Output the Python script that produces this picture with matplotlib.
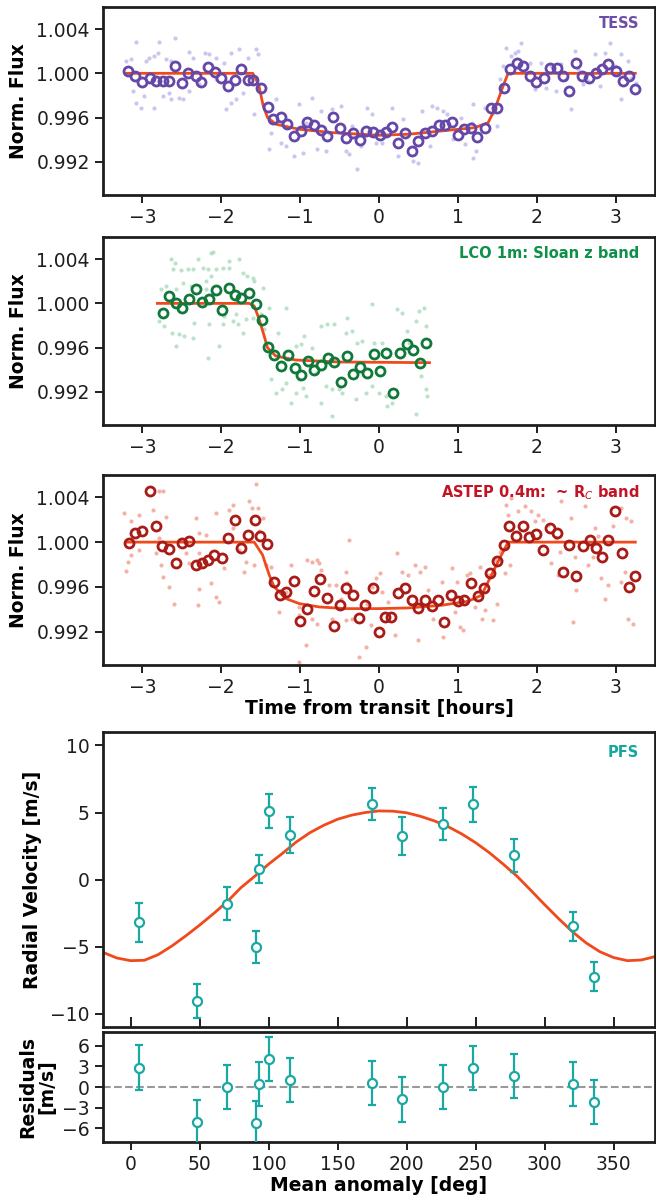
import matplotlib
matplotlib.use("Agg")
import matplotlib.pyplot as plt

# ---------------- TESS ----------------
tess_bin_t = [-3.185, -3.095, -3.000, -2.910, -2.826, -2.736, -2.657, -2.588, -2.499, -2.420,
              -2.325, -2.251, -2.166, -2.077, -1.998, -1.918, -1.829, -1.755, -1.660, -1.592,
              -1.496, -1.406, -1.338, -1.248, -1.164, -1.084, -0.995, -0.910, -0.826, -0.741,
              -0.657, -0.588, -0.493, -0.414, -0.330, -0.245, -0.161, -0.082, 0.008, 0.087,
              0.166, 0.245, 0.325, 0.420, 0.499, 0.588, 0.678, 0.763, 0.842, 0.921,
              1.000, 1.079, 1.169, 1.248, 1.338, 1.417, 1.496, 1.580, 1.660, 1.749,
              1.829, 1.918, 1.997, 2.092, 2.171, 2.251, 2.330, 2.409, 2.499, 2.578,
              2.662, 2.752, 2.831, 2.910, 3.000, 3.090, 3.164, 3.243]
tess_bin_f = [1.00021, 0.99976, 0.99925, 0.99955, 0.99931, 0.99931, 0.99931, 1.00069, 0.99910, 1.00006,
              0.99976, 0.99925, 1.00054, 1.00015, 0.99961, 0.99886, 0.99940, 1.00039, 0.99940, 0.99940,
              0.99865, 0.99699, 0.99585, 0.99609, 0.99540, 0.99429, 0.99483, 0.99558, 0.99534, 0.99489,
              0.99429, 0.99603, 0.99504, 0.99414, 0.99459, 0.99398, 0.99480, 0.99465, 0.99444, 0.99468,
              0.99519, 0.99368, 0.99459, 0.99302, 0.99389, 0.99459, 0.99480, 0.99534, 0.99534, 0.99564,
              0.99438, 0.99498, 0.99504, 0.99420, 0.99504, 0.99690, 0.99690, 0.99865, 1.00039, 1.00090,
              1.00069, 0.99976, 0.99925, 0.99955, 1.00045, 1.00045, 0.99976, 0.99841, 1.00090, 0.99976,
              0.99961, 1.00006, 1.00036, 1.00081, 1.00024, 0.99931, 0.99976, 0.99859]
tess_raw_t = [-3.080, -2.785, -2.582, -3.206, -3.143, -2.953, -2.911, -2.848, -2.806, -2.700,
              -2.637, -2.413, -2.363, -2.202, -2.152, -2.067, -1.962, -1.877, -1.772, -1.666,
              -1.561, -1.540, -3.122, -3.080, -3.017, -2.974, -2.848, -2.742, -2.658, -2.637,
              -2.531, -2.489, -2.405, -2.278, -2.067, -1.941, -1.877, -1.814, -1.730, -1.582,
              -1.392, -1.371, -1.308, -1.244, -1.181, -1.076, -1.012, -0.970, -0.844, -0.780,
              -0.738, -0.675, -0.590, -0.485, -0.422, -0.380, -0.274, -0.232, -0.147, -0.084,
              -0.928, -0.633, -0.337, -0.042,
              0.034, 0.160, 0.245, 0.308, 0.435, 0.490, 0.540, 0.646, 0.667, 0.730,
              0.814, 0.857, 0.941, 1.046, 1.089, 1.173, 1.194, 1.194, 1.236, 1.342,
              1.447, 1.490, 1.532, 1.574, 1.616, 1.679, 1.722, 1.764, 1.806, 1.911,
              1.975, 2.059, 2.122, 2.186, 2.249, 2.312, 2.375, 2.439, 2.481, 2.523,
              2.587, 2.650, 2.734, 2.798, 2.861, 2.924, 2.987, 3.063, 3.072, 3.156,
              3.198, 3.262]
tess_raw_f = [1.00286, 1.00286, 1.00322, 1.00111, 1.00126, 1.00111, 1.00141, 1.00156, 1.00187, 1.00126,
              1.00111, 1.00193, 1.00141, 1.00187, 1.00172, 1.00141, 1.00096, 1.00187, 1.00217, 1.00141,
              1.00217, 1.00172, 0.99840, 0.99735, 0.99690, 0.99795, 0.99690, 0.99795, 0.99825, 0.99765,
              0.99780, 0.99765, 0.99840, 0.99901, 0.99946, 0.99675, 0.99735, 0.99765, 0.99825, 0.99630,
              0.99314, 0.99464, 0.99765, 0.99374, 0.99344, 0.99254, 0.99720, 0.99284, 0.99780, 0.99314,
              0.99660, 0.99299, 0.99675, 0.99705, 0.99299, 0.99269, 0.99133, 0.99344, 0.99690, 0.99630,
              0.99554, 0.99464, 0.99524, 0.99374,
              0.99374, 0.99690, 0.99254, 0.99585, 0.99208, 0.99193, 0.99660, 0.99344, 0.99705, 0.99690,
              0.99660, 0.99630, 0.99404, 0.99600, 0.99359, 0.99554, 0.99720, 0.99238, 0.99299, 0.99690,
              0.99645, 0.99524, 0.99946, 1.00066, 1.00232, 1.00156, 1.00187, 1.00202, 1.00277, 1.00096,
              0.99855, 1.00096, 0.99871, 1.00066, 0.99840, 1.00081, 0.99946, 0.99675, 1.00202, 1.00036,
              0.99901, 0.99931, 1.00172, 0.99886, 1.00187, 1.00277, 1.00066, 1.00172, 0.99765, 1.00111,
              0.99961, 0.99915]
tess_mod_t = [-3.20, -1.60, -1.527, -1.468, -1.413, -1.308, -1.012, -0.590, 0.0, 0.371, 0.793,
              1.215, 1.384, 1.468, 1.574, 1.637, 3.25]
tess_mod_f = [1.0000, 1.0000, 0.99901, 0.99705, 0.99600, 0.99540, 0.99494, 0.99464, 0.99440, 0.99449,
              0.99479, 0.99509, 0.99554, 0.99675, 0.99886, 1.0000, 1.0000]

# ---------------- LCO ----------------
lco_bin_t = [-2.736, -2.657, -2.578, -2.499, -2.409, -2.325, -2.245, -2.156, -2.066, -1.987,
             -1.902, -1.823, -1.744, -1.649, -1.565, -1.486, -1.406, -1.327, -1.248, -1.153,
             -1.069, -0.995, -0.905, -0.826, -0.741, -0.652, -0.573, -0.483, -0.404, -0.325,
             -0.235, -0.150, -0.066, 0.018, 0.092, 0.177, 0.261, 0.351, 0.430, 0.515, 0.594]
lco_bin_f = [0.99910, 1.00069, 1.00000, 0.99961, 1.00036, 1.00126, 1.00009, 1.00036, 1.00120, 0.99940,
             1.00135, 1.00075, 1.00045, 1.00096, 0.99994, 0.99850, 0.99603, 0.99534, 0.99438, 0.99534,
             0.99420, 0.99353, 0.99480, 0.99398, 0.99444, 0.99510, 0.99468, 0.99293, 0.99528, 0.99362,
             0.99423, 0.99368, 0.99540, 0.99389, 0.99549, 0.99188, 0.99549, 0.99630, 0.99579, 0.99465,
             0.99645]
lco_raw_t = [-2.637, -2.582, -2.616, -2.511, -2.426, -2.300, -2.363, -2.236, -2.131, -2.101,
             -2.173, -2.131, -2.194, -2.068, -1.983, -1.899, -1.907, -1.772, -1.730, -1.679,
             -1.603, -1.582, -1.477, -2.764, -2.700, -2.574, -2.489, -2.384, -2.194, -2.785,
             -2.722, -2.625, -2.574, -2.532, -2.468, -2.363, -2.342, -2.173, -2.152, -2.025,
             -1.983, -1.962, -1.857, -1.793, -1.730, -1.814, -1.688, -1.603, -1.498, -1.456,
             -1.392, -1.181, -1.287, -1.371, -1.308, -1.224, -1.181, -1.118, -1.055, -1.013,
             -0.970, -0.928, -1.055, -0.992, -0.949, -0.844, -0.802, -0.738, -0.738, -0.654,
             -0.570, -0.675, -0.591, -0.506, -0.464, -0.401, -0.422, -0.338, -0.274, -0.295,
             -0.211, -0.169, -0.084, -0.063, 0.042, -0.084, 0.000, 0.084, 0.105, 0.169,
             0.232, 0.295, 0.359, 0.380, 0.464, 0.506, 0.570, 0.591, 0.527, 0.591,
             0.612, -0.591, 0.464]
lco_raw_f = [1.00403, 1.00367, 1.00307, 1.00301, 1.00307, 1.00397, 1.00307, 1.00322, 1.00457, 1.00463,
             1.00307, 1.00247, 1.00201, 1.00307, 1.00322, 1.00382, 1.00322, 1.00397, 1.00277, 1.00247,
             1.00231, 1.00201, 1.00141, 1.00126, 1.00156, 1.00126, 1.00186, 1.00156, 1.00126, 0.99840,
             0.99795, 0.99735, 0.99614, 0.99720, 0.99705, 0.99690, 0.99825, 0.99509, 0.99810, 0.99614,
             0.99810, 0.99885, 0.99840, 0.99810, 0.99735, 0.99900, 0.99855, 0.99870, 0.99900, 0.99765,
             0.99961, 0.99961, 0.99735, 0.99313, 0.99193, 0.99223, 0.99283, 0.99103, 0.99193, 0.99313,
             0.99238, 0.99163, 0.99614, 0.99629, 0.99705, 0.99599, 0.99374, 0.99795, 0.99103, 0.99810,
             0.99810, 0.99253, 0.99223, 0.99223, 0.99193, 0.99870, 0.99735, 0.99750, 0.99644, 0.99133,
             0.99659, 0.99193, 0.99991, 0.99644, 0.99644, 0.99253, 0.99193, 0.99163, 0.99073, 0.99103,
             0.99946, 0.99915, 0.99750, 0.99644, 0.99840, 0.99930, 0.99961, 0.99795, 0.99343, 0.99223,
             0.99163, 0.98982, 0.98997]
lco_mod_t = [-2.81, -1.646, -1.582, -1.519, -1.456, -1.414, -1.308, -1.055, -0.506, 0.64]
lco_mod_f = [1.0000, 1.0000, 0.99976, 0.99855, 0.99705, 0.99599, 0.99524, 0.99488, 0.99470, 0.99464]

# ---------------- ASTEP ----------------
astep_bin_t = [-3.169, -3.095, -3.000, -2.910, -2.831, -2.747, -2.668, -2.578, -2.499, -2.409,
               -2.325, -2.245, -2.166, -2.087, -1.997, -1.918, -1.829, -1.749, -1.660, -1.575,
               -1.506, -1.417, -1.332, -1.259, -1.174, -1.074, -1.005, -0.916, -0.826, -0.752,
               -0.662, -0.573, -0.493, -0.414, -0.335, -0.256, -0.172, -0.082, -0.003, 0.071,
               0.150, 0.245, 0.325, 0.414, 0.499, 0.588, 0.668, 0.747, 0.826, 0.916,
               1.000, 1.079, 1.169, 1.253, 1.327, 1.412, 1.501, 1.580, 1.654, 1.739,
               1.829, 1.908, 1.997, 2.077, 2.171, 2.251, 2.330, 2.409, 2.499, 2.583,
               2.673, 2.752, 2.831, 2.910, 2.995, 3.085, 3.164, 3.243]
astep_bin_f = [0.99991, 1.00081, 1.00104, 1.00454, 1.00140, 0.99961, 0.99937, 0.99812, 0.99991, 1.00012,
               0.99797, 0.99812, 0.99842, 0.99881, 0.99857, 1.00036, 1.00200, 0.99946, 1.00066, 1.00200,
               1.00051, 0.99982, 0.99642, 0.99528, 0.99558, 0.99648, 0.99290, 0.99403, 0.99567, 0.99672,
               0.99498, 0.99251, 0.99439, 0.99588, 0.99528, 0.99325, 0.99439, 0.99594, 0.99194, 0.99334,
               0.99328, 0.99543, 0.99594, 0.99484, 0.99415, 0.99484, 0.99424, 0.99484, 0.99284, 0.99528,
               0.99469, 0.99478, 0.99633, 0.99519, 0.99594, 0.99722, 0.99827, 0.99976, 1.00140, 1.00057,
               1.00140, 1.00045, 1.00075, 0.99931, 1.00125, 1.00081, 0.99737, 0.99970, 0.99699, 0.99961,
               1.00021, 0.99946, 0.99863, 1.00015, 1.00275, 0.99901, 0.99597, 0.99693]
astep_raw_t = [-3.228, -3.143, -3.038, -2.869, -2.700, -2.785, -2.827, -2.763, -2.742, -2.658,
               -2.595, -3.185, -3.206, -3.143, -3.038, -2.785, -2.734, -2.531, -2.447, -2.405,
               -2.278, -2.320, -2.278, -2.194, -2.131, -2.299, -2.278, -2.067, -2.067, -2.025,
               -1.962, -1.899, -1.856, -1.856, -1.772, -1.709, -1.688, -1.645, -1.612, -1.561,
               -1.540, -1.519, -1.582, -1.477, -1.434, -1.371, -1.266, -1.181, -1.118, -1.012,
               -1.012, -0.928, -0.907, -0.844, -0.780, -0.759, -0.738, -0.844, -0.780, -1.012,
               -0.633, -0.590, -0.548, -0.485, -0.422, -0.401, -0.380, -0.422, -0.337, -0.253,
               -0.169, -0.147, -0.105, -0.084, -0.042,
               0.013, 0.034, 0.118, 0.203, 0.224, 0.287, 0.371, 0.456, 0.519, 0.582,
               0.498, 0.625, 0.688, 0.793, 0.814, 0.878, 0.920, 0.983, 1.025, 1.068,
               0.962, 1.110, 1.152, 1.215, 1.279, 1.300, 1.342, 1.384, 1.447, 1.468,
               1.490, 1.532, 1.553, 1.595, 1.658, 1.616, 1.679, 1.637, 1.764, 1.848,
               1.933, 2.017, 1.975, 2.080, 2.143, 2.249, 2.291, 2.186, 2.270, 2.312,
               2.439, 2.481, 2.502, 2.460, 2.608, 2.650, 2.734, 2.713, 2.776, 2.819,
               2.861, 2.903, 2.966, 3.072, 3.135, 3.198, 3.114, 3.156, 3.220, 3.072]
astep_raw_f = [1.00261, 1.00192, 1.00246, 1.00291, 1.00222, 1.00036, 0.99901, 0.99796, 0.99691, 0.99600,
               0.99450, 0.99826, 0.99742, 0.99886, 0.99931, 1.00462, 1.00462, 1.00021, 0.99901, 0.99811,
               0.99901, 1.00216, 1.00081, 1.00066, 0.99630, 0.99435, 0.99585, 1.00261, 0.99510, 0.99465,
               0.99766, 1.00291, 1.00336, 1.00126, 0.99931, 0.99736, 0.99826, 1.00366, 1.00306, 1.00516,
               1.00306, 1.00096, 0.99796, 1.00216, 0.99796, 0.99781, 0.99375, 0.99555, 0.99796, 0.99345,
               0.98925, 0.99075, 0.99841, 0.99826, 0.99841, 0.99811, 0.99751, 0.99315, 0.99270, 0.99420,
               0.99615, 0.99315, 0.99615, 0.99495, 0.99736, 0.99631, 1.00021, 0.99300, 0.99315, 0.98970,
               0.99060, 0.99450, 0.99255, 0.99600, 0.99675,
               0.99721, 0.99555, 0.99465, 0.99165, 0.99901, 0.99736, 0.99706, 0.99796, 0.99736, 0.99781,
               0.99120, 0.99570, 0.99315, 0.99646, 0.99150, 0.99555, 0.99766, 0.99646, 0.99240, 0.99210,
               0.99375, 0.99706, 0.99721, 0.99420, 0.99781, 0.99315, 0.99390, 0.99706, 0.99300, 0.99841,
               0.99450, 0.99916, 0.99841, 0.99721, 0.99796, 1.00336, 1.00396, 1.00246, 1.00276, 1.00321,
               1.00276, 1.00246, 1.00186, 1.00201, 1.00156, 1.00036, 0.99916, 0.99811, 0.99706, 1.00366,
               1.00216, 0.99871, 0.99570, 0.99285, 1.00321, 0.99796, 1.00126, 0.99871, 1.00051, 0.99676,
               0.99495, 0.99615, 1.00141, 1.00306, 1.00216, 1.00186, 0.99736, 0.99315, 0.99270, 0.99646]
astep_mod_t = [-3.20, -1.582, -1.477, -1.392, -1.329, -1.181, -1.012, -0.759, -0.422, 0.0, 0.37,
               0.793, 1.131, 1.300, 1.426, 1.553, 1.637, 3.25]
astep_mod_f = [1.0000, 1.0000, 0.99886, 0.99706, 0.99600, 0.99495, 0.99450, 0.99420, 0.99405, 0.99405,
               0.99411, 0.99435, 0.99471, 0.99525, 0.99706, 0.99886, 1.0000, 1.0000]

# ---------------- PFS radial velocities ----------------
rv_phase = [6.0, 47.8, 70.2, 91.2, 93.1, 100.4, 115.3, 174.9, 196.4, 226.5, 248.0, 277.7, 320.7, 335.9]
rv_val = [-3.2, -9.05, -1.8, -5.05, 0.78, 5.1, 3.33, 5.63, 3.25, 4.13, 5.6, 1.8, -3.5, -7.25]
rv_err = [1.45, 1.25, 1.23, 1.2, 1.03, 1.25, 1.33, 1.18, 1.45, 1.19, 1.28, 1.23, 1.08, 1.1]
res_val = [2.8, -5.1, 0.05, -5.3, 0.5, 4.1, 1.0, 0.55, -1.8, 0.0, 2.75, 1.6, 0.4, -2.2]
res_err = [3.3, 3.2, 3.2, 3.2, 3.2, 3.2, 3.2, 3.2, 3.3, 3.2, 3.2, 3.2, 3.2, 3.2]
rv_mod_phase = [-20, -10, 0, 10, 20, 30, 40, 50, 60, 70, 80, 90, 100, 110, 120, 130, 140, 150,
                160, 170, 180, 190, 200, 210, 220, 230, 240, 250, 260, 270, 280, 290, 300, 310,
                320, 330, 340, 350, 360, 370, 380]
rv_mod_val = [-5.43, -5.85, -6.05, -6.02, -5.6, -4.95, -4.2, -3.4, -2.55, -1.65, -0.6, 0.25, 1.15,
              1.95, 2.8, 3.5, 4.05, 4.5, 4.8, 5.0, 5.12, 5.1, 4.98, 4.72, 4.38, 3.95, 3.4, 2.75,
              2.0, 1.15, 0.25, -0.8, -1.87, -2.9, -3.88, -4.72, -5.38, -5.82, -6.05, -6.0, -5.75]

flux_ticks = [0.992, 0.996, 1.000, 1.004]
time_ticks = [-3, -2, -1, 0, 1, 2, 3]

model_color = '#f04a1c'
spine_color = '#1e1e1e'
fs = 13.5

plt.rcParams['font.family'] = ['DejaVu Sans']
plt.rcParams['axes.linewidth'] = 2.0
plt.rcParams['axes.edgecolor'] = spine_color
plt.rcParams['xtick.color'] = spine_color
plt.rcParams['ytick.color'] = spine_color

fig = plt.figure(figsize=(6.56, 11.97), dpi=100)

left = 0.157
width = 0.8415

lc_panels = [
    ([left, 0.8371, width, 0.1571], tess_raw_t, tess_raw_f, tess_bin_t, tess_bin_f,
     tess_mod_t, tess_mod_f, '#b8b4ea', '#6547a8', 'TESS', '#6c4ea8'),
    ([left, 0.6449, width, 0.1571], lco_raw_t, lco_raw_f, lco_bin_t, lco_bin_f,
     lco_mod_t, lco_mod_f, '#a6d9b8', '#10793a', 'LCO 1m: Sloan z band', '#0f9048'),
    ([left, 0.4444, width, 0.1587], astep_raw_t, astep_raw_f, astep_bin_t, astep_bin_f,
     astep_mod_t, astep_mod_f, '#ee9a8a', '#a81c18', 'ASTEP 0.4m:  ~ R$_C$ band', '#c21424'),
]

for i, (pos, rt, rf, bt, bf, mt, mf, dot_c, circ_c, label, label_c) in enumerate(lc_panels):
    ax = fig.add_axes(pos)
    ax.plot(rt, rf, 'o', ms=3.0, color=dot_c, alpha=0.75, mew=0, zorder=1)
    ax.plot(mt, mf, '-', color=model_color, lw=2.0, zorder=2)
    ax.plot(bt, bf, 'o', ms=6.5, mfc='none', mec=circ_c, mew=2.0, zorder=3)
    ax.set_xlim(-3.5, 3.5)
    ax.set_ylim(0.989, 1.006)
    ax.set_xticks(time_ticks)
    ax.set_yticks(flux_ticks)
    ax.set_yticklabels(['%.3f' % v for v in flux_ticks])
    ax.tick_params(labelsize=fs, length=6, width=1.4, direction='out')
    ax.set_ylabel('Norm. Flux', fontsize=fs, fontweight='bold')
    ax.yaxis.set_label_coords(-0.136, 0.5)
    ax.text(0.971, 0.91, label, transform=ax.transAxes, ha='right', va='center',
            color=label_c, fontsize=10.5, fontweight='bold')
    if i == 2:
        ax.set_xlabel('Time from transit [hours]', fontsize=fs, fontweight='bold', labelpad=1)

# RV panel
ax4 = fig.add_axes([left, 0.1420, width, 0.2464])
ax4.plot(rv_mod_phase, rv_mod_val, '-', color=model_color, lw=2.0, zorder=1)
ax4.errorbar(rv_phase, rv_val, yerr=rv_err, fmt='o', ms=6.5, mfc='white', mec='#1aa8a2',
             mew=1.6, ecolor='#1aa8a2', elinewidth=1.6, capsize=3, capthick=1.6, zorder=3)
ax4.set_xlim(-20, 380)
ax4.set_ylim(-11, 11)
ax4.set_yticks([-10, -5, 0, 5, 10])
ax4.set_xticks([0, 50, 100, 150, 200, 250, 300, 350])
ax4.tick_params(axis='x', direction='in', length=7, width=1.4, labelbottom=False)
ax4.tick_params(axis='y', direction='out', length=6, width=1.4, labelsize=fs)
ax4.set_ylabel('Radial Velocity [m/s]', fontsize=fs, fontweight='bold')
ax4.yaxis.set_label_coords(-0.11, 0.5)
ax4.text(0.971, 0.932, 'PFS', transform=ax4.transAxes, ha='right', va='center',
         color='#16a69e', fontsize=10.5, fontweight='bold')

# Residuals panel
ax5 = fig.add_axes([left, 0.0459, width, 0.0919])
ax5.axhline(0, color='#999999', lw=1.5, ls='--', zorder=1)
ax5.errorbar(rv_phase, res_val, yerr=res_err, fmt='o', ms=6.5, mfc='white', mec='#1aa8a2',
             mew=1.6, ecolor='#1aa8a2', elinewidth=1.6, capsize=3, capthick=1.6, zorder=3)
ax5.set_xlim(-20, 380)
ax5.set_ylim(-8, 8)
ax5.set_yticks([-6, -3, 0, 3, 6])
ax5.set_xticks([0, 50, 100, 150, 200, 250, 300, 350])
ax5.tick_params(labelsize=fs, length=6, width=1.4, direction='out')
ax5.set_ylabel('Residuals\n[m/s]', fontsize=fs, fontweight='bold', linespacing=1.0)
ax5.yaxis.set_label_coords(-0.085, 0.5)
ax5.set_xlabel('Mean anomaly [deg]', fontsize=fs, fontweight='bold', labelpad=1)

plt.savefig('out.png', dpi=100)
